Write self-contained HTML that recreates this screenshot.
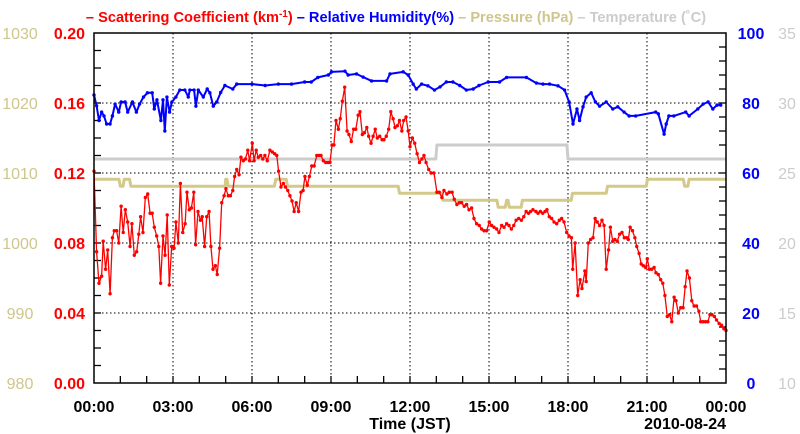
<!DOCTYPE html>
<html><head><meta charset="utf-8"><style>
html,body{margin:0;padding:0;background:#fff;width:800px;height:434px;overflow:hidden}
svg{display:block;font-family:"Liberation Sans",Arial,sans-serif}
</style></head><body>
<svg id="chart" width="800" height="434" viewBox="0 0 800 434"></svg>
<script>
const xTickLabels=["00:00","03:00","06:00","09:00","12:00","15:00","18:00","21:00","00:00"];
const scatTicks=["0.00","0.04","0.08","0.12","0.16","0.20"];
const presTicks=["980","990","1000","1010","1020","1030"];
const rhTicks=["0","20","40","60","80","100"];
const tempTicks=["10","15","20","25","30","35"];
const scatHours=[0,.1,.19,.29,.35,.44,.52,.61,.7,.77,.86,.94,1.03,1.11,1.19,1.28,1.37,1.44,1.53,1.62,1.7,1.77,1.86,1.95,2.04,2.13,2.21,2.29,2.38,2.46,2.53,2.62,2.7,2.78,2.86,2.95,3.04,3.11,3.2,3.28,3.37,3.46,3.53,3.62,3.7,3.79,3.86,3.95,4.04,4.11,4.2,4.28,4.37,4.44,4.52,4.61,4.68,4.77,4.85,4.94,5.01,5.1,5.18,5.27,5.34,5.42,5.51,5.58,5.67,5.75,5.84,5.91,6.01,6.08,6.16,6.24,6.33,6.41,6.49,6.58,6.68,6.77,6.86,6.94,7.01,7.1,7.19,7.27,7.36,7.44,7.52,7.6,7.68,7.77,7.86,7.94,8.01,8.1,8.18,8.27,8.36,8.46,8.55,8.62,8.71,8.8,8.89,8.96,9.04,9.11,9.19,9.28,9.35,9.43,9.52,9.61,9.68,9.77,9.86,9.94,10.03,10.1,10.19,10.27,10.36,10.43,10.52,10.6,10.68,10.76,10.85,10.94,11.01,11.1,11.19,11.27,11.36,11.43,11.52,11.6,11.69,11.76,11.85,11.93,12,12.09,12.18,12.27,12.36,12.45,12.53,12.61,12.71,12.8,12.91,13.02,13.11,13.21,13.29,13.4,13.49,13.6,13.68,13.78,13.87,13.96,14.06,14.15,14.24,14.34,14.43,14.53,14.63,14.72,14.81,14.91,15.01,15.1,15.19,15.29,15.38,15.48,15.57,15.67,15.76,15.85,15.94,16.03,16.13,16.23,16.32,16.41,16.5,16.58,16.67,16.78,16.86,16.95,17.04,17.13,17.2,17.29,17.38,17.47,17.57,17.67,17.76,17.85,17.95,18.04,18.13,18.18,18.27,18.37,18.46,18.53,18.64,18.69,18.77,18.86,18.95,19.03,19.11,19.2,19.29,19.37,19.45,19.54,19.61,19.7,19.78,19.87,19.96,20.05,20.14,20.23,20.29,20.36,20.45,20.54,20.61,20.7,20.78,20.86,20.95,21.01,21.09,21.18,21.27,21.34,21.43,21.52,21.6,21.68,21.77,21.86,21.94,22.03,22.1,22.19,22.28,22.37,22.45,22.52,22.61,22.7,22.79,22.88,22.97,23.04,23.13,23.22,23.31,23.39,23.47,23.56,23.64,23.74,23.83,23.92,24];
const scatValues=[.121,.075,.057,.061,.081,.065,.076,.051,.083,.087,.087,.080,.101,.086,.099,.092,.078,.091,.073,.075,.085,.095,.086,.106,.108,.097,.097,.089,.084,.078,.057,.084,.073,.096,.056,.078,.077,.092,.080,.114,.086,.091,.109,.099,.100,.109,.079,.098,.093,.095,.078,.095,.098,.078,.065,.067,.062,.077,.103,.107,.111,.107,.107,.110,.118,.122,.119,.129,.127,.128,.133,.127,.137,.127,.133,.129,.130,.128,.130,.127,.133,.132,.131,.130,.121,.112,.114,.112,.110,.107,.104,.098,.103,.098,.109,.110,.118,.113,.118,.124,.124,.130,.130,.130,.127,.126,.126,.126,.136,.136,.150,.145,.151,.161,.169,.144,.142,.138,.145,.145,.153,.155,.142,.143,.146,.141,.137,.141,.145,.140,.141,.139,.139,.141,.145,.155,.151,.146,.147,.150,.144,.150,.152,.144,.135,.140,.137,.131,.126,.128,.130,.126,.122,.120,.120,.109,.109,.106,.110,.108,.109,.109,.105,.102,.103,.103,.101,.102,.099,.100,.094,.091,.090,.088,.087,.087,.092,.090,.089,.088,.086,.090,.089,.091,.090,.088,.090,.093,.094,.093,.095,.098,.097,.098,.099,.098,.097,.098,.097,.098,.099,.095,.094,.092,.091,.093,.094,.092,.086,.084,.083,.065,.080,.050,.059,.054,.064,.058,.080,.082,.083,.094,.092,.090,.093,.090,.065,.076,.089,.081,.082,.081,.085,.086,.083,.083,.082,.089,.087,.083,.078,.074,.068,.067,.066,.071,.065,.065,.066,.063,.062,.059,.057,.050,.038,.039,.035,.049,.047,.040,.043,.043,.055,.064,.060,.047,.044,.044,.041,.035,.035,.035,.035,.039,.039,.038,.036,.034,.033,.031,.030];
const rhHours=[0,.1,.19,.29,.38,.48,.61,.7,.8,.94,1.03,1.18,1.28,1.46,1.61,1.73,1.88,2.03,2.21,2.29,2.39,2.54,2.62,2.69,2.77,2.87,2.96,3.11,3.26,3.45,3.58,3.64,3.8,3.87,3.96,4.15,4.3,4.4,4.53,4.66,4.81,4.97,5.27,5.42,6.0,6.5,7.0,7.5,8.0,8.25,8.5,8.9,9.02,9.53,9.65,9.97,10.22,10.54,11.11,11.24,11.74,11.93,12.12,12.24,12.44,12.68,12.93,13.14,13.38,13.63,13.89,14.14,14.4,14.62,14.97,15.4,15.67,16.42,16.8,17.05,17.3,17.62,17.87,18.04,18.19,18.34,18.44,18.57,18.69,18.88,19.04,19.2,19.45,19.7,19.89,20.13,20.32,20.57,21.33,21.43,21.65,21.73,21.83,22.02,22.47,22.6,22.93,23.13,23.32,23.5,23.66,23.8];
const rhValues=[82.3,79.2,75,77.4,76.3,74,74,76.3,79.7,77.4,80.3,80.3,77.4,80.3,77.4,79.7,81.7,82.9,82.9,78.3,80.9,75,80.9,72,81.7,77.4,80.3,81.7,83.7,83.7,81.7,83.7,83.7,79.1,83.7,81.7,84,82.9,79.1,80.3,83,85,84,85.4,85.4,85,85.4,85.4,86,86,87.3,88,88.9,89.1,88,88.3,87.4,86.3,86.3,88.3,88.9,88,85.4,84,85.4,84.9,83.7,84.6,86,86,85,83.7,84,85,86,86,87.3,87.3,85.7,85.4,85.4,84.9,83.7,80.3,74,78.3,75,78.9,81.7,82.9,80.3,79.1,80.3,78.3,78.9,77.4,76.3,76.3,77.4,76.9,71.1,74,76.3,76.3,77.4,76.3,78.3,79.7,80.3,78.3,79.4,79.4];
const presHours=[0,.95,1.0,1.1,1.15,1.35,1.4,4.98,5.0,5.05,5.1,6.85,6.9,7.3,7.35,11.55,11.6,13.2,13.25,15.3,15.35,15.62,15.67,15.72,15.77,16.22,16.27,18.12,18.17,19.45,19.5,20.97,21.02,22.38,22.43,22.55,22.6,24];
const presValues=[1009.1,1009.1,1008.1,1008.1,1009.1,1009.1,1008.1,1008.1,1009.1,1009.1,1008.1,1008.1,1009.1,1009.1,1008.1,1008.1,1007.1,1007.1,1006.1,1006.1,1005.1,1005.1,1006.1,1006.1,1005.1,1005.1,1006.1,1006.1,1007.1,1007.1,1008.1,1008.1,1009.1,1009.1,1008.1,1008.1,1009.1,1009.1];
const tempHours=[0,12.98,13.02,17.96,18.0,24];
const tempValues=[26,26,27,27,26,26];

const NS="http://www.w3.org/2000/svg";
const svg=document.getElementById('chart');
const L=94,R=726,T=33,B=383;
const xs=h=>L+h/24*(R-L);
const yScat=v=>B-v/0.2*(B-T);
const yRH=v=>B-v/100*(B-T);
const yPres=v=>B-(v-980)/50*(B-T);
const yTemp=v=>B-(v-10)/25*(B-T);
function mk(tag,attrs,parent){const e=document.createElementNS(NS,tag);for(const k in attrs)e.setAttribute(k,attrs[k]);(parent||svg).appendChild(e);return e;}
function txt(s,x,y,anchor,fill,size,weight){const t=mk('text',{x:x,y:y,'text-anchor':anchor,fill:fill,'font-size':size,'font-weight':weight});t.textContent=s;return t;}

const grid=mk('g',{});


for(let i=1;i<8;i++){const l=mk('line',{x1:xs(i*3),x2:xs(i*3),y1:T,y2:B,stroke:'#000','stroke-width':1,'stroke-dasharray':'1.5,2.5'},grid);}
for(let i=1;i<5;i++){const y=yScat(i*0.04);const l=mk('line',{x1:L,x2:R,y1:y,y2:y,stroke:'#000','stroke-width':1,'stroke-dasharray':'1.5,2.5'},grid);}
const tk=mk('g',{stroke:'#000','stroke-width':1.3});


for(let i=1;i<20;i++){const y=yScat(i*0.01);mk('line',{x1:L,x2:L+7,y1:y,y2:y},tk);}
for(let i=1;i<25;i++){const y=yRH(i*4);mk('line',{x1:R,x2:R-7,y1:y,y2:y},tk);}
for(let i=1;i<24;i++){const x=xs(i);mk('line',{x1:x,x2:x,y1:B,y2:B-7},tk);}

function series(hs,vs,yf,color,w,name,dots){
  const g=mk('g',{});
  
  
  const pts=hs.map((h,i)=>xs(h).toFixed(1)+','+yf(vs[i]).toFixed(1)).join(' ');
  mk('polyline',{points:pts,fill:'none',stroke:color,'stroke-width':w,'stroke-linejoin':'round'},g);
  if(dots){hs.forEach((h,i)=>{const c=mk('circle',{cx:xs(h),cy:yf(vs[i]),r:1.7,fill:color},g);});}
}
series(tempHours,tempValues,yTemp,'#cccccc',3,'temperature-line',false);
series(presHours,presValues,yPres,'#d2c98a',3,'pressure-line',false);
series(rhHours,rhValues,yRH,'#0000ff',2,'humidity-line',true);
series(scatHours,scatValues,yScat,'#ff0000',1.3,'scattering-line',true);

const fr=mk('rect',{x:L,y:T,width:R-L,height:B-T,fill:'none',stroke:'#000','stroke-width':1.5});



scatTicks.forEach((s,i)=>{const t=txt(s,85,yScat(i*0.04)+6,'end','#ff0000',16,'bold');});
presTicks.forEach((s,i)=>{const t=txt(s,20,yPres(980+i*10)+6,'middle','#cfc68c',16,'normal');});
rhTicks.forEach((s,i)=>{const t=txt(s,751,yRH(i*20)+6,'middle','#0000ff',16,'bold');});
tempTicks.forEach((s,i)=>{const t=txt(s,787,yTemp(10+i*5)+6,'middle','#cccccc',16,'normal');});
xTickLabels.forEach((s,i)=>{const t=txt(s,xs(i*3),412,'middle','#000',16,'bold');});
const xt=txt('Time (JST)',410,429,'middle','#000',16,'bold');


const dt=txt('2010-08-24',726,429,'end','#000',16,'bold');



const lg=mk('text',{x:396,y:22,'text-anchor':'middle','font-size':14.6,'font-weight':'bold'});


lg.innerHTML='<tspan fill="#ff0000">– Scattering Coefficient (km<tspan dy="-5" font-size="10">-1</tspan><tspan dy="5">) </tspan></tspan><tspan fill="#0000ff">– Relative Humidity(%) </tspan><tspan fill="#cfc68c">– Pressure (hPa) </tspan><tspan fill="#cccccc">– Temperature (˚C)</tspan>';
</script>
</body></html>
